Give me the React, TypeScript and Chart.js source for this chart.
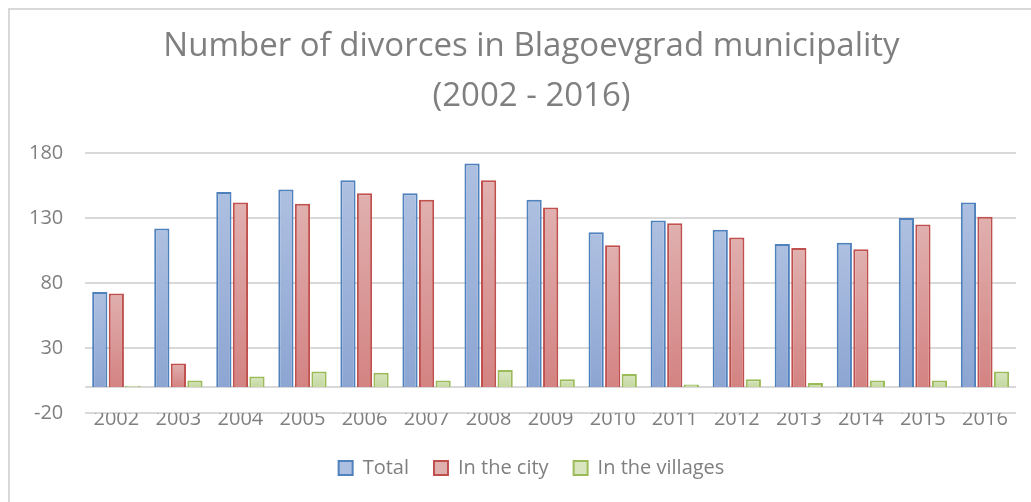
import React, { useEffect, useRef } from "react";
import { Chart, registerables } from "chart.js";

Chart.register(...registerables);

const categories = ["2002", "2003", "2004", "2005", "2006", "2007", "2008", "2009", "2010", "2011", "2012", "2013", "2014", "2015", "2016"];
const totalValues = [73, 122, 150, 152, 159, 149, 172, 144, 119, 128, 121, 110, 111, 130, 142];
const cityValues = [72, 18, 142, 141, 149, 144, 159, 138, 109, 126, 115, 107, 106, 125, 131];
const villageValues = [1, 5, 8, 12, 11, 5, 13, 6, 10, 2, 6, 3, 5, 5, 12];
const seriesNames = ["Total", "In the city", "In the villages"];
const yTicks = { min: -20, max: 180, step: 50 };
const titleLines = ["Number of divorces in Blagoevgrad municipality", "(2002 - 2016)"];

const FONT = "'Open Sans', sans-serif";
const GREY = "#7f7f7f";

function barGradient(top: string, bottom: string) {
  return (ctx: any) => {
    const chart = ctx.chart;
    const y = chart.scales && chart.scales.y;
    if (!y || ctx.raw === undefined || ctx.raw === null) return top;
    const y0 = y.getPixelForValue(ctx.raw);
    const y1 = y.getPixelForValue(0);
    if (!isFinite(y0) || !isFinite(y1) || Math.abs(y1 - y0) < 1) return top;
    const g = chart.ctx.createLinearGradient(0, y0, 0, y1);
    g.addColorStop(0, top);
    g.addColorStop(1, bottom);
    return g;
  };
}

const framePlugin = {
  id: "frame",
  afterLayout(chart: any) {
    // the original chart frame is wider than the window, so title and legend sit right of centre
    const shift = 20;
    if (chart.titleBlock) {
      chart.titleBlock.left += shift;
      chart.titleBlock.right += shift;
    }
    if (chart.legend) {
      chart.legend.left += shift;
      chart.legend.right += shift;
    }
  },
  beforeDraw(chart: any) {
    const c = chart.ctx;
    c.save();
    c.fillStyle = "#ffffff";
    c.fillRect(0, 0, chart.width, chart.height);
    c.strokeStyle = "#d9d9d9";
    c.lineWidth = 2;
    c.strokeRect(9, 9, chart.width + 20, chart.height + 20);
    c.restore();
  },
  beforeDatasetsDraw(chart: any) {
    const y = chart.scales.y;
    const area = chart.chartArea;
    const c = chart.ctx;
    const py = Math.round(y.getPixelForValue(0));
    c.save();
    c.strokeStyle = "#d9d9d9";
    c.lineWidth = 2;
    c.beginPath();
    c.moveTo(area.left, py);
    c.lineTo(area.right, py);
    c.stroke();
    c.restore();
  },
};

export default function App() {
  const ref = useRef<HTMLCanvasElement | null>(null);

  useEffect(() => {
    if (!ref.current) return;
    const fills = [
      ["rgb(174,192,225)", "rgb(140,165,210)", "#4f81bd"],
      ["rgb(224,176,175)", "rgb(211,131,130)", "#c0504d"],
      ["rgb(216,229,191)", "rgb(196,216,160)", "#9bbb59"],
    ];
    const values = [totalValues, cityValues, villageValues];
    const chart = new Chart(ref.current, {
      type: "bar",
      data: {
        labels: categories,
        datasets: values.map((v, i) => ({
          label: seriesNames[i],
          data: v,
          backgroundColor: barGradient(fills[i][0], fills[i][1]),
          borderColor: fills[i][2],
          borderWidth: 2,
          borderSkipped: "bottom",
          categoryPercentage: 0.8,
          barPercentage: 0.92,
        })),
      },
      options: {
        animation: false,
        responsive: false,
        maintainAspectRatio: false,
        layout: { padding: { left: 7, right: 15, top: 0, bottom: 14 } },
        plugins: {
          title: {
            display: true,
            text: titleLines,
            color: GREY,
            font: { family: FONT, size: 33, weight: "normal", lineHeight: "50px" },
            padding: { top: 22, bottom: 31 },
          },
          legend: {
            position: "bottom",
            labels: {
              color: GREY,
              font: { family: FONT, size: 20 },
              boxWidth: 14,
              boxHeight: 14,
              padding: 25,
              generateLabels: () =>
                seriesNames.map((n, i) => ({
                  text: n,
                  fillStyle: fills[i][0],
                  strokeStyle: fills[i][2],
                  lineWidth: 2,
                  hidden: false,
                  datasetIndex: i,
                  fontColor: GREY,
                })),
            },
          },
          tooltip: { enabled: false },
        },
        scales: {
          x: {
            grid: { display: false, drawTicks: false },
            border: { display: false },
            ticks: { color: GREY, font: { family: FONT, size: 20 }, padding: -6, maxRotation: 0 },
            afterFit: (s: any) => {
              s.height += 8;
            },
          },
          y: {
            min: yTicks.min,
            max: yTicks.max,
            grid: { color: "#d9d9d9", lineWidth: 2, drawTicks: false },
            border: { display: false },
            ticks: { stepSize: yTicks.step, color: GREY, font: { family: FONT, size: 20 }, padding: 22 },
          },
        },
      },
      plugins: [framePlugin],
    });
    return () => chart.destroy();
  }, []);

  return (
    <div style={{ position: "fixed", left: 0, top: 0, width: 1031, height: 502 }}>
      <canvas ref={ref} width={1031} height={502} style={{ width: 1031, height: 502, display: "block" }} />
    </div>
  );
}
